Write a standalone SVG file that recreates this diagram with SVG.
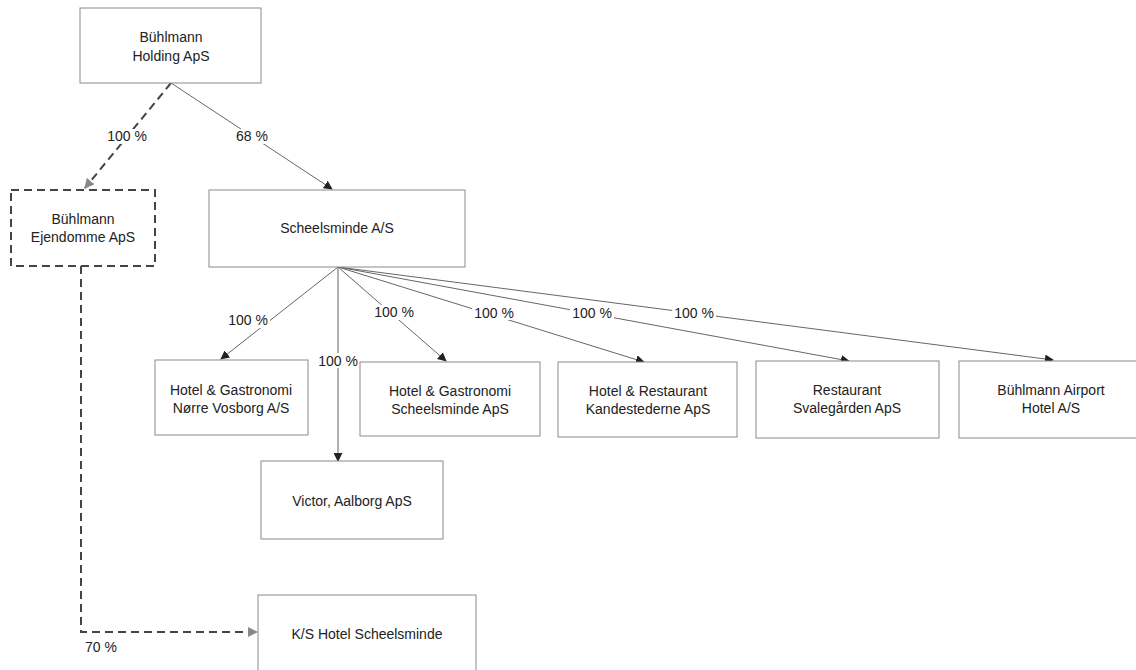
<svg xmlns="http://www.w3.org/2000/svg" width="1136" height="670" viewBox="0 0 1136 670">
<defs>
<marker id="ah" viewBox="0 0 10 10" refX="9" refY="5" markerWidth="9" markerHeight="9" markerUnits="userSpaceOnUse" orient="auto"><path d="M0,0 L10,5 L0,10 z" fill="#222"/></marker>
<marker id="ahg" viewBox="0 0 10 10" refX="9" refY="5" markerWidth="10" markerHeight="10" markerUnits="userSpaceOnUse" orient="auto"><path d="M0,0 L10,5 L0,10 z" fill="#888"/></marker>
<style>
.box{fill:#fff;stroke:#8a8a8a;stroke-width:1}
.dbox{fill:#fff;stroke:#444;stroke-width:2;stroke-dasharray:8,5}
.t{font-family:"Liberation Sans",Arial,sans-serif;font-size:14px;fill:#222;text-anchor:middle}
.ln{stroke:#666;stroke-width:1;fill:none}
.dl{stroke:#444;stroke-width:2;stroke-dasharray:8,5;fill:none}
.lb{font-family:"Liberation Sans",Arial,sans-serif;font-size:14px;fill:#222;text-anchor:middle}
.bg{fill:#fff}
</style>
</defs>
<rect width="1136" height="670" fill="#fff"/>
<g id="connectors">
<line class="ln" x1="171" y1="83" x2="332" y2="189" marker-end="url(#ah)"/>
<line class="dl" x1="171" y1="83" x2="85" y2="188" marker-end="url(#ahg)"/>
<line class="ln" x1="338" y1="267" x2="221" y2="359" marker-end="url(#ah)"/>
<line class="ln" x1="338" y1="267" x2="338" y2="461" stroke="#aaa" marker-end="url(#ah)"/>
<line class="ln" x1="338" y1="267" x2="446" y2="361" marker-end="url(#ah)"/>
<line class="ln" x1="338" y1="267" x2="644" y2="362" marker-end="url(#ah)"/>
<line class="ln" x1="338" y1="267" x2="849" y2="361" marker-end="url(#ah)"/>
<line class="ln" x1="338" y1="267" x2="1053" y2="360" marker-end="url(#ah)"/>
<polyline class="dl" points="81,266 81,632 257,632" marker-end="url(#ahg)"/>
<g id="labels">
<rect class="bg" x="106" y="129" width="44" height="15"/><text class="lb" x="127" y="141">100 %</text>
<rect class="bg" x="233" y="129" width="38" height="15"/><text class="lb" x="252" y="141">68 %</text>
<rect class="bg" x="226" y="313" width="44" height="15"/><text class="lb" x="248" y="325">100 %</text>
<rect class="bg" x="316" y="353" width="44" height="15"/><text class="lb" x="338" y="366">100 %</text>
<rect class="bg" x="372" y="305" width="44" height="15"/><text class="lb" x="394" y="317">100 %</text>
<rect class="bg" x="472" y="305" width="44" height="15"/><text class="lb" x="494" y="318">100 %</text>
<rect class="bg" x="570" y="305" width="44" height="15"/><text class="lb" x="592" y="318">100 %</text>
<rect class="bg" x="672" y="305" width="44" height="15"/><text class="lb" x="694" y="318">100 %</text>
<text class="lb" x="101" y="652">70 %</text>
</g>
</g>
<g id="holding"><rect class="box" x="80" y="8" width="181" height="75"/><text class="t" x="171" y="42">Bühlmann</text><text class="t" x="171" y="61">Holding ApS</text></g>
<g id="ejendomme"><rect class="dbox" x="11" y="190" width="144" height="76"/><text class="t" x="83" y="224">Bühlmann</text><text class="t" x="83" y="242">Ejendomme ApS</text></g>
<g id="scheelsminde"><rect class="box" x="209" y="190" width="256" height="77"/><text class="t" x="337" y="233">Scheelsminde A/S</text></g>
<g id="vosborg"><rect class="box" x="155" y="360" width="153" height="75"/><text class="t" x="231" y="395">Hotel &amp; Gastronomi</text><text class="t" x="231" y="413">Nørre Vosborg A/S</text></g>
<g id="gastronomi"><rect class="box" x="360" y="362" width="180" height="74"/><text class="t" x="450" y="396">Hotel &amp; Gastronomi</text><text class="t" x="450" y="414">Scheelsminde ApS</text></g>
<g id="kandestederne"><rect class="box" x="558" y="362" width="179" height="75"/><text class="t" x="648" y="396">Hotel &amp; Restaurant</text><text class="t" x="648" y="414">Kandestederne ApS</text></g>
<g id="svalegarden"><rect class="box" x="756" y="361" width="183" height="77"/><text class="t" x="847" y="395">Restaurant</text><text class="t" x="847" y="413">Svalegården ApS</text></g>
<g id="airport"><rect class="box" x="959" y="361" width="190" height="77"/><text class="t" x="1051" y="395">Bühlmann Airport</text><text class="t" x="1051" y="413">Hotel A/S</text></g>
<g id="victor"><rect class="box" x="261" y="461" width="182" height="78"/><text class="t" x="352" y="506">Victor, Aalborg ApS</text></g>
<g id="ks"><rect class="box" x="258" y="595" width="218" height="90"/><text class="t" x="367" y="639">K/S Hotel Scheelsminde</text></g>
</svg>
